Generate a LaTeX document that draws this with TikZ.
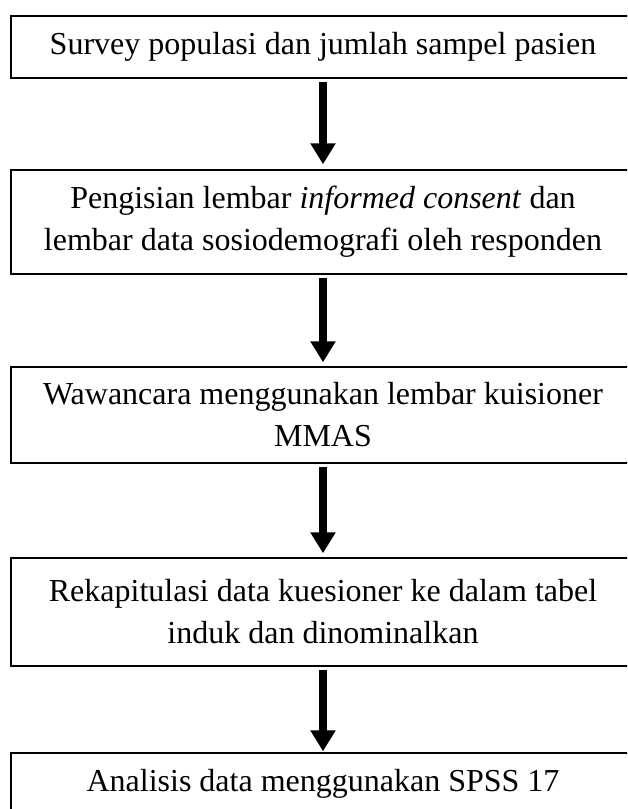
\documentclass[tikz,border=0pt]{standalone}
\usepackage{fontspec}
\setmainfont{Liberation Serif}
\usetikzlibrary{arrows.meta}
\begin{document}
\begin{tikzpicture}[x=1pt,y=-1pt,
  box/.style={draw=black, line width=1.4pt, minimum width=624pt, align=center,
    inner sep=0pt, font=\fontsize{32}{42}\selectfont},
  flowarrow/.style={line width=8pt, -{Triangle[width=24pt,length=21pt]}}]
\useasboundingbox (0,0) rectangle (627,809);
\clip (0,0) rectangle (627,809);
\node[box, minimum height=62pt] (b1) at (323,47) {Survey populasi dan jumlah sampel pasien};
\node[box, minimum height=104pt] (b2) at (323,222) {Pengisian lembar \textit{informed consent} dan\\lembar data sosiodemografi oleh responden};
\node[box, minimum height=96pt] (b3) at (323,415) {Wawancara menggunakan lembar kuisioner\\MMAS};
\node[box, minimum height=108pt] (b4) at (323,612) {Rekapitulasi data kuesioner ke dalam tabel\\induk dan dinominalkan};
\node[box, minimum height=62pt] (b5) at (323,784) {Analisis data menggunakan SPSS 17};
\draw[flowarrow] ([yshift=-3pt]b1.south) -- ([yshift=5pt]b2.north);
\draw[flowarrow] ([yshift=-3pt]b2.south) -- ([yshift=4pt]b3.north);
\draw[flowarrow] ([yshift=-3pt]b3.south) -- ([yshift=4pt]b4.north);
\draw[flowarrow] ([yshift=-3pt]b4.south) -- ([yshift=1pt]b5.north);
\end{tikzpicture}
\end{document}
